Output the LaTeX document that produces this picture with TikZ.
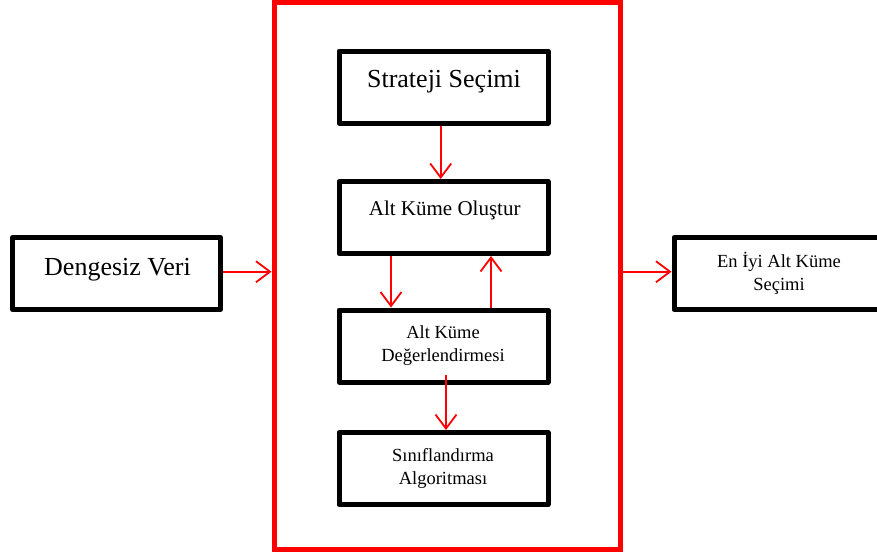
\documentclass[tikz,border=0pt]{standalone}
\usepackage{fontspec}
\setmainfont{Liberation Serif}[Ligatures=NoCommon]
\usetikzlibrary{arrows.meta}
\begin{document}
\begin{tikzpicture}[x=1pt,y=-1pt,
  box/.style={draw=black,line width=5pt,line join=round,rectangle,inner sep=0pt,
    minimum height=72pt},
  stagebox/.style={box,minimum width=209pt},
  frame/.style={draw=red,line width=5pt,rectangle,inner sep=0pt},
  flow/.style={draw=red,line width=1.8pt,-{Straight Barb[length=14pt,width=21pt,line width=1.8pt]}},
  bigtxt/.style={font=\fontsize{26}{30}\selectfont,anchor=base,inner sep=0pt},
  smalltxt/.style={font=\fontsize{18.5}{22.5}\selectfont,anchor=base,inner sep=0pt,align=center},
  midtxt/.style={font=\fontsize{21}{25}\selectfont,anchor=base,inner sep=0pt}]
\useasboundingbox (0,0) rectangle (877,555);
\clip (0,0) rectangle (877,555);

% outer red frame
\node[frame,minimum width=346pt,minimum height=547pt] (frame) at (447,275.5) {};

% boxes
\node[box,minimum width=208pt] (dv) at (116.5,273.5) {};
\node[stagebox] (ss) at (443.5,87) {};
\node[stagebox] (ako) at (443.5,217.5) {};
\node[stagebox] (akd) at (443.5,346) {};
\node[stagebox] (sa) at (443.5,468.5) {};
\node[box,minimum width=210pt] (eia) at (779,273.5) {};

% labels (base anchor = baseline of the last line)
\node[bigtxt] (dvt) at (117.5,275) {Dengesiz Veri};
\node[bigtxt] (sst) at (444,87.3) {Strateji Seçimi};
\node[midtxt] (akot) at (444.7,215) {Alt Küme Oluştur};
\node[smalltxt] (akdt) at (443,361) {Alt Küme\\Değerlendirmesi};
\node[smalltxt] (sat) at (443,484) {Sınıflandırma\\Algoritması};
\node[smalltxt] (eiat) at (779,290) {En İyi Alt Küme\\Seçimi};

% connectors
\draw[flow] (dv.east |- 0,271.7) -- (frame.west |- 0,271.7);
\draw[flow] (frame.east |- 0,271.7) -- (eia.west |- 0,271.7);
\draw[flow] (ss.south -| 440.7,0) -- (ako.north -| 440.7,0);
\draw[flow] (ako.south -| 391,0) -- (akd.north -| 391,0);
\draw[flow] (akd.north -| 491,0) -- (ako.south -| 491,0);
\coordinate (akdin) at (446,375);
\draw[flow] (akdin) -- (sa.north -| akdin);
\end{tikzpicture}
\end{document}
